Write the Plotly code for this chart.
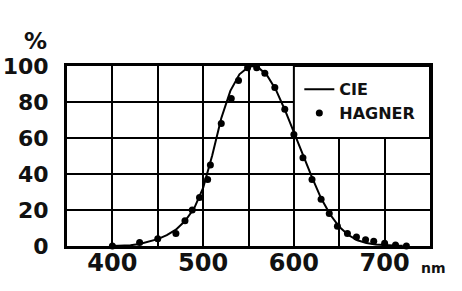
import plotly.graph_objects as go

# CIE photopic luminosity curve (percent)
cie_nm = [400, 410, 420, 430, 440, 450, 460, 470, 480, 490, 500, 510, 520, 530, 540,
          550, 555, 560, 570, 580, 590, 600, 610, 620, 630, 640, 650, 660, 670, 680,
          690, 700, 710, 720]
cie_pct = [0.04, 0.12, 0.4, 1.16, 2.3, 3.8, 6.0, 9.1, 13.9, 20.8, 32.3, 50.3, 71.0, 86.2, 95.4,
           99.5, 100.0, 99.5, 95.2, 87.0, 75.7, 63.1, 50.3, 38.1, 26.5, 17.5, 10.7, 6.1, 3.2, 1.7,
           0.82, 0.41, 0.21, 0.1]

# Hagner measured points (percent)
hag_nm = [400, 430, 450, 470, 480, 488, 496, 505, 508, 520, 531, 539, 549, 559, 568, 579,
          590, 600, 610, 620, 630, 639, 648, 659, 669, 679, 688, 700, 712, 724]
hag_pct = [0, 2, 4, 7, 14, 20, 27, 37, 45, 68, 82, 92, 99, 99, 96, 88,
           76, 62, 49, 37, 26, 18, 11, 7, 5, 3.5, 2.7, 1.5, 0.5, 0]

x_ticks = [350, 400, 450, 500, 550, 600, 650, 700, 750]
x_labels = ["", "400", "", "500", "", "600", "", "700", ""]
y_ticks = [0, 20, 40, 60, 80, 100]
y_labels = ["0", "20", "40", "60", "80", "100"]

FONT = "DejaVu Sans"

fig = go.Figure()
fig.add_trace(go.Scatter(x=cie_nm, y=cie_pct, mode="lines", name="CIE",
                         line=dict(color="black", width=2), cliponaxis=False))
fig.add_trace(go.Scatter(x=hag_nm, y=hag_pct, mode="markers", name="HAGNER",
                         marker=dict(color="black", size=7), cliponaxis=False))

fig.add_shape(type="rect", xref="x", yref="y", x0=600, x1=750, y0=60, y1=100,
              fillcolor="white", line=dict(color="black", width=2), layer="between")

fig.update_xaxes(range=[350, 750], tickmode="array", tickvals=x_ticks, ticktext=x_labels,
                 showgrid=True, gridcolor="black", gridwidth=2, zeroline=False,
                 showline=True, linecolor="black", linewidth=3, mirror=True,
                 ticks="", ticklabelstandoff=-7, automargin=False,
                 tickfont=dict(family=FONT, size=24, color="#111", weight="bold"))
fig.update_yaxes(range=[0, 100], tickmode="array", tickvals=y_ticks, ticktext=y_labels,
                 showgrid=True, gridcolor="black", gridwidth=2, zeroline=False,
                 showline=True, linecolor="black", linewidth=3, mirror=True,
                 ticks="", ticklabelstandoff=11, automargin=False,
                 tickfont=dict(family=FONT, size=22, color="#111", weight="bold"))

fig.add_annotation(text="%", xref="paper", yref="paper", x=-0.088, y=1.14,
                   xanchor="center", yanchor="middle",
                   showarrow=False, font=dict(family=FONT, size=23, color="#111", weight="bold"))
fig.add_annotation(text="nm", xref="paper", yref="paper", x=1.01, y=-0.12,
                   xanchor="center", yanchor="middle", showarrow=False,
                   font=dict(family=FONT, size=14, color="#111", weight="bold"))

fig.update_layout(
    width=462, height=291,
    margin=dict(l=67, r=32, t=66, b=45, autoexpand=False),
    plot_bgcolor="white", paper_bgcolor="white",
    showlegend=True,
    legend=dict(x=0.64, y=0.965, xanchor="left", yanchor="top", bgcolor="rgba(0,0,0,0)",
                font=dict(family=FONT, size=16, color="#111", weight="bold"), itemwidth=30,
                tracegroupgap=0),
)

fig.write_html("out.html")
